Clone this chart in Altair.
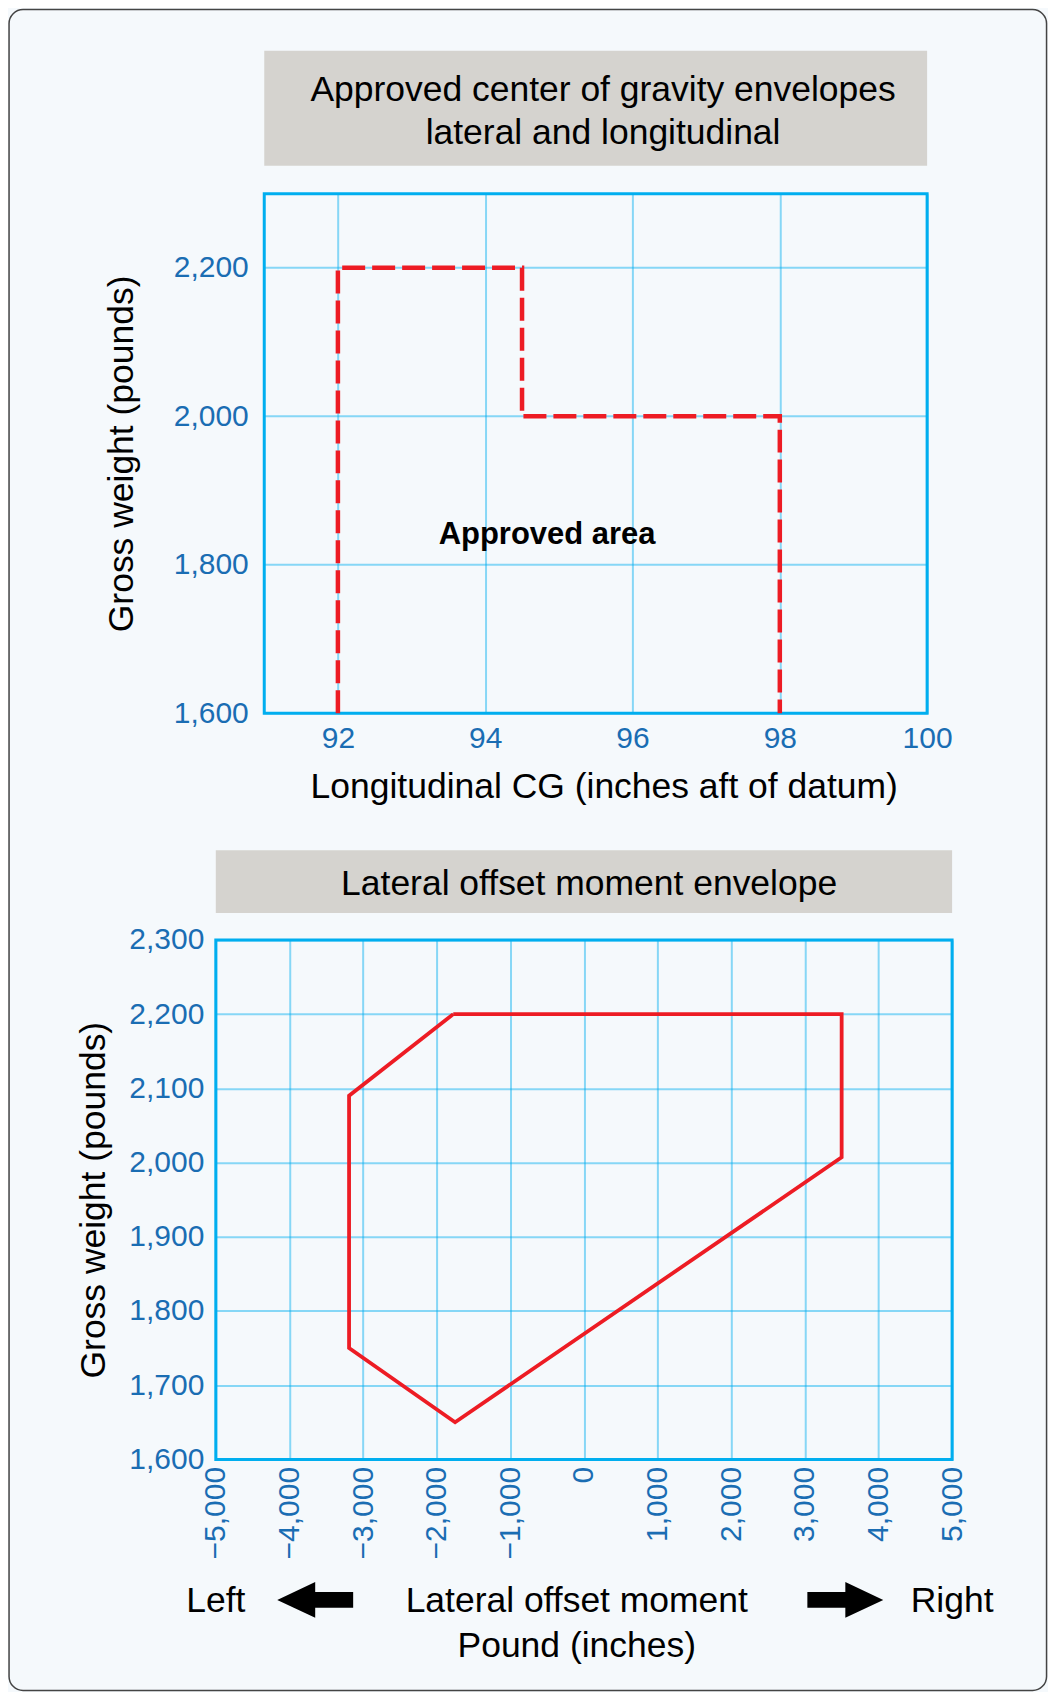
import altair as alt
import pandas as pd

# ---------------- data: longitudinal CG envelope (top chart) ----------------
lon_x_domain = [91, 100]
lon_y_domain = [1600, 2300]
lon_x_ticks = [92, 94, 96, 98, 100]
lon_y_ticks = [1600, 1800, 2000, 2200]
lon_env_cg = [92, 92, 94.5, 94.5, 98, 98]
lon_env_wt = [1600, 2200, 2200, 2000, 2000, 1600]

# ---------------- data: lateral offset moment envelope (bottom chart) -------
lat_x_domain = [-5000, 5000]
lat_y_domain = [1600, 2300]
lat_x_ticks = [-5000, -4000, -3000, -2000, -1000, 0, 1000, 2000, 3000, 4000, 5000]
lat_y_ticks = [1600, 1700, 1800, 1900, 2000, 2100, 2200, 2300]
lat_env_moment = [-1775, 3500, 3500, -1750, -3190, -3190, -1775]
lat_env_wt = [2200, 2200, 2007, 1650, 1750, 2090, 2200]

# ---------------- texts ----------------
top_title_lines = ["Approved center of gravity envelopes", "lateral and longitudinal"]
top_x_title = "Longitudinal CG (inches aft of datum)"
y_title = "Gross weight (pounds)"
area_label = ["Approved area"]
bot_title = ["Lateral offset moment envelope"]
bot_x_title = ["Lateral offset moment", "Pound (inches)"]
side_labels = ["Left", "Right"]
arrow_dirs = ["left", "right"]

# ---------------- annotation placement (data units) ----------------
top_box = {"x": [91], "x2": [100], "y": [2337.7], "y2": [2492.5]}
top_title_pos = {"x": [95.6, 95.6], "y": [2425.2, 2367.3]}
area_label_pos = {"x": [94.84], "y": [1828]}
bot_box = {"x": [-5000], "x2": [5000], "y": [2336.3], "y2": [2420.7]}
bot_title_pos = {"x": [70], "y": [2360]}
side_label_pos = {"x": [-5000, 5000], "y": [1394.6, 1394.6]}
arrow_pos = {"x": [-3650, 3550], "y": [1410.7, 1410.7]}

# ---------------- styles ----------------
FONT = "Liberation Sans"
RED = "#ed1c24"
FRAME = "#00aeef"
GRID = "#00aeef"
GRID_OP = 0.45
LABEL = "#1a6db3"
GRAY = "#d5d3cf"
BG = "#f5f9fc"
BORDER = "#444444"
TITLE_SIZE = 35.5

TOP_W, TOP_H = 712, 520
TOP_X0 = 48.5
BOT_W, BOT_H = 737, 520

PATH_L = "M-1,0L0,-0.47L0,-0.21L1,-0.21L1,0.21L0,0.21L0,0.47Z"
PATH_R = "M1,0L0,-0.47L0,-0.21L-1,-0.21L-1,0.21L0,0.21L0,0.47Z"

# ---------------- scales and axes ----------------
xs_top = alt.Scale(domain=lon_x_domain, range=[TOP_X0, TOP_W], nice=False, zero=False)
ys_top = alt.Scale(domain=lon_y_domain, nice=False, zero=False)
xs_bot = alt.Scale(domain=lat_x_domain, nice=False, zero=False)
ys_bot = alt.Scale(domain=lat_y_domain, nice=False, zero=False)

AX_TOP_X = alt.Axis(
    values=lon_x_ticks, format="d", title=top_x_title, grid=True,
    labelPadding=10, titleX=388.3, titleY=84.3,
    titleBaseline="alphabetic", titleAlign="center")
AX_TOP_Y = alt.Axis(
    values=lon_y_ticks, format=",d", title=y_title, grid=False,
    offset=-TOP_X0, labelPadding=16, titleX=-132, titleY=260,
    titleBaseline="alphabetic", titleAlign="center", titleAngle=270)
AX_BOT_X = alt.Axis(
    values=lat_x_ticks, format=",d", title=bot_x_title, grid=True,
    labelAngle=270, labelPadding=7, titleX=360.8, titleY=152.7,
    titleBaseline="alphabetic", titleAlign="center", titleLineHeight=44.6)
AX_BOT_Y = alt.Axis(
    values=lat_y_ticks, format=",d", title=y_title, grid=True,
    labelPadding=12, titleX=-111, titleY=260,
    titleBaseline="alphabetic", titleAlign="center", titleAngle=270)


def xt(field):
    return alt.X(field, type="quantitative", scale=xs_top, axis=AX_TOP_X)


def yt(field):
    return alt.Y(field, type="quantitative", scale=ys_top, axis=AX_TOP_Y)


def xb(field):
    return alt.X(field, type="quantitative", scale=xs_bot, axis=AX_BOT_X)


def yb(field):
    return alt.Y(field, type="quantitative", scale=ys_bot, axis=AX_BOT_Y)


# ---------------- top chart ----------------
one = pd.DataFrame({"k": [0]})

border = alt.Chart(one).mark_rect(
    fillOpacity=0, stroke=BORDER, strokeWidth=1.5, cornerRadius=14
).encode(
    x=alt.value(-206.95), x2=alt.value(831.55),
    y=alt.value(-184.25), y2=alt.value(1498.25),
)

top_box_l = alt.Chart(pd.DataFrame(top_box)).mark_rect(color=GRAY).encode(
    x=xt("x"), x2="x2", y=yt("y"), y2="y2"
)

top_title_l = alt.Chart(
    pd.DataFrame({**top_title_pos, "t": top_title_lines})
).mark_text(font=FONT, fontSize=TITLE_SIZE, color="black", baseline="alphabetic", align="center").encode(
    x=xt("x"), y=yt("y"), text="t:N"
)

top_ygrid = alt.Chart(
    pd.DataFrame({"y": lon_y_ticks, "x": [lon_x_domain[0]] * len(lon_y_ticks),
                  "x2": [lon_x_domain[1]] * len(lon_y_ticks)})
).mark_rule(color=GRID, opacity=GRID_OP, strokeWidth=2).encode(
    x=xt("x"), x2="x2", y=yt("y")
)

top_frame = alt.Chart(
    pd.DataFrame({"x": [lon_x_domain[0]], "x2": [lon_x_domain[1]],
                  "y": [lon_y_domain[0]], "y2": [lon_y_domain[1]]})
).mark_rect(fillOpacity=0, stroke=FRAME, strokeWidth=3).encode(
    x=xt("x"), x2="x2", y=yt("y"), y2="y2"
)

df_lon = pd.DataFrame({"x": lon_env_cg, "y": lon_env_wt, "i": list(range(len(lon_env_cg)))})
top_line = alt.Chart(df_lon).mark_line(
    color=RED, strokeWidth=4.5, strokeDash=[23, 7], strokeCap="butt", strokeJoin="miter"
).encode(
    x=xt("x"), y=yt("y"), order=alt.Order("i:Q"),
)

top_area = alt.Chart(
    pd.DataFrame({**area_label_pos, "t": area_label})
).mark_text(font=FONT, fontSize=31, fontWeight="bold", color="black",
            baseline="alphabetic", align="center").encode(
    x=xt("x"), y=yt("y"), text="t:N"
)

top = alt.layer(
    border, top_box_l, top_title_l, top_ygrid, top_frame, top_line, top_area
).properties(width=TOP_W, height=TOP_H)

# ---------------- bottom chart ----------------
bot_box_l = alt.Chart(pd.DataFrame(bot_box)).mark_rect(color=GRAY).encode(
    x=xb("x"), x2="x2", y=yb("y"), y2="y2"
)

bot_title_l = alt.Chart(
    pd.DataFrame({**bot_title_pos, "t": bot_title})
).mark_text(font=FONT, fontSize=TITLE_SIZE, color="black", baseline="alphabetic", align="center").encode(
    x=xb("x"), y=yb("y"), text="t:N"
)

df_lat = pd.DataFrame({"x": lat_env_moment, "y": lat_env_wt, "i": list(range(len(lat_env_moment)))})
bot_line = alt.Chart(df_lat).mark_line(
    color=RED, strokeWidth=3.8, strokeJoin="miter"
).encode(
    x=xb("x"), y=yb("y"), order=alt.Order("i:Q"),
)

bot_frame = alt.Chart(
    pd.DataFrame({"x": [lat_x_domain[0]], "x2": [lat_x_domain[1]],
                  "y": [lat_y_domain[0]], "y2": [lat_y_domain[1]]})
).mark_rect(fillOpacity=0, stroke=FRAME, strokeWidth=3).encode(
    x=xb("x"), x2="x2", y=yb("y"), y2="y2"
)

side_l = alt.Chart(
    pd.DataFrame({**side_label_pos, "t": side_labels})
).mark_text(font=FONT, fontSize=TITLE_SIZE, color="black", baseline="alphabetic", align="center").encode(
    x=xb("x"), y=yb("y"), text="t:N"
)

arrows = alt.Chart(
    pd.DataFrame({**arrow_pos, "dir": arrow_dirs})
).mark_point(filled=True, size=5776, opacity=1, color="black", strokeWidth=0).encode(
    x=xb("x"), y=yb("y"),
    shape=alt.Shape("dir:N", scale=alt.Scale(domain=arrow_dirs, range=[PATH_L, PATH_R]), legend=None),
)

bottom = alt.layer(
    bot_box_l, bot_title_l, bot_line, bot_frame, side_l, arrows
).properties(width=BOT_W, height=BOT_H)

chart = alt.vconcat(
    top, bottom, spacing=227, bounds="flush", padding=0, background=BG
).configure_axis(
    labelFont=FONT, titleFont=FONT, labelFontSize=30, titleFontSize=TITLE_SIZE,
    labelColor=LABEL, titleColor="black", titleFontWeight="normal",
    domain=False, ticks=False, tickSize=0,
    gridColor=GRID, gridOpacity=GRID_OP, gridWidth=2,
    labelFlush=False, labelOverlap=False,
).configure_view(strokeWidth=0)

chart.save("out.html", embed_options={"renderer": "svg", "actions": False})
